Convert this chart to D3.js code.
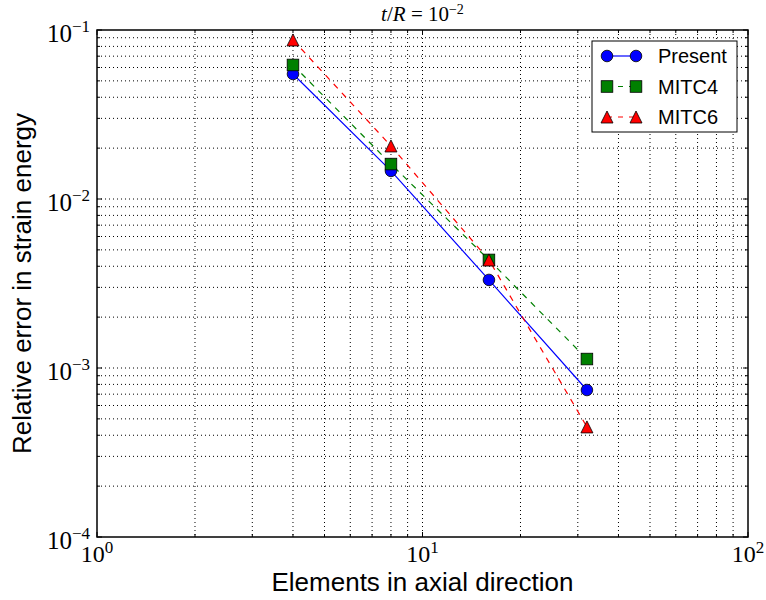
<html>
<head>
    <meta charset="utf-8">
    <title>Relative error in strain energy</title>
    <style>
        body {
            margin: 0;
            background: white;
            font-family: "Liberation Sans", Arial, sans-serif;
        }
        .grid line {
            stroke: #000;
            stroke-width: 1;
            stroke-dasharray: 1, 3;
        }
        .tick-label {
            font-family: "Liberation Serif", "Times New Roman", serif;
        }
    </style>
    <script src="https://cdn.jsdelivr.net/npm/d3@7"></script>
</head>
<body>
<div class="mainView"></div>
<script>
    // number of elements along the axial direction
    let elements = [4, 8, 16, 32];

    // relative error in strain energy
    let presentErr = [0.0549, 0.01466, 0.00332, 0.000741];
    let mitc4Err = [0.0621, 0.0161, 0.00436, 0.00113];
    let mitc6Err = [0.0873, 0.0206, 0.00436, 0.000448];

    let seriesNames = ["Present", "MITC4", "MITC6"];

    let xTickExps = [0, 1, 2];
    let yTickExps = [-1, -2, -3, -4];

    function getChartConfig() {
        let width = 766;
        let height = 600;
        let margin = {
            top: 30,
            bottom: 63,
            left: 97,
            right: 18
        }
        let bodyHeight = height - margin.top - margin.bottom;
        let bodyWidth = width - margin.left - margin.right;
        let svg = d3.select(".mainView")
                    .append("svg")
                    .attr("width", width)
                    .attr("height", height)
        let container = svg.append("g")
                    .attr("transform", "translate(" + [margin.left, margin.top] + ")")
        return { width, height, margin, bodyHeight, bodyWidth, svg, container };
    }

    function getChartScales(config) {
        let { bodyWidth, bodyHeight } = config;
        let xScale = d3.scaleLog()
            .domain([1, 100])
            .range([0, bodyWidth])
        let yScale = d3.scaleLog()
            .domain([1e-4, 1e-1])
            .range([bodyHeight, 0])
        return { xScale, yScale }
    }

    // majors and minors of a log decade range
    function logTicks(lo, hi) {
        let out = [];
        for (let e = lo; e < hi; e++) {
            for (let m = 1; m < 10; m++) out.push({ v: m * Math.pow(10, e), major: m == 1 });
        }
        out.push({ v: Math.pow(10, hi), major: true });
        return out;
    }

    function drawAxes(scales, config) {
        let { xScale, yScale } = scales;
        let { container, bodyWidth, bodyHeight, svg, margin } = config;
        let xt = logTicks(0, 2);
        let yt = logTicks(-4, -1);

        let grid = container.append("g").attr("class", "grid");
        xt.filter(d => d.v > 1 && d.v < 100).forEach(d => {
            grid.append("line")
                .attr("x1", xScale(d.v)).attr("x2", xScale(d.v))
                .attr("y1", 0).attr("y2", bodyHeight)
        })
        yt.filter(d => d.v > 1e-4 && d.v < 1e-1).forEach(d => {
            grid.append("line")
                .attr("x1", 0).attr("x2", bodyWidth)
                .attr("y1", yScale(d.v)).attr("y2", yScale(d.v))
        })

        // inward ticks on all four sides
        let ticks = container.append("g").attr("stroke", "#000").attr("stroke-width", 1);
        xt.forEach(d => {
            let len = d.major ? 5 : 3;
            let x = xScale(d.v);
            ticks.append("line").attr("x1", x).attr("x2", x).attr("y1", bodyHeight).attr("y2", bodyHeight - len)
            ticks.append("line").attr("x1", x).attr("x2", x).attr("y1", 0).attr("y2", len)
        })
        yt.forEach(d => {
            let len = d.major ? 5 : 3;
            let y = yScale(d.v);
            ticks.append("line").attr("x1", 0).attr("x2", len).attr("y1", y).attr("y2", y)
            ticks.append("line").attr("x1", bodyWidth).attr("x2", bodyWidth - len).attr("y1", y).attr("y2", y)
        })

        container.append("rect")
            .attr("width", bodyWidth)
            .attr("height", bodyHeight)
            .attr("fill", "none")
            .attr("stroke", "#000")
            .attr("stroke-width", 1.5)

        xTickExps.forEach(e => {
            let t = container.append("text")
                .attr("class", "tick-label")
                .attr("x", xScale(Math.pow(10, e)))
                .attr("y", bodyHeight + 25)
                .attr("text-anchor", "middle")
                .style("font-size", "24px")
            t.append("tspan").text("10")
            t.append("tspan").attr("dy", -9).style("font-size", "17px").text(e)
        })
        yTickExps.forEach(e => {
            let t = container.append("text")
                .attr("class", "tick-label")
                .attr("x", -7)
                .attr("y", yScale(Math.pow(10, e)) + 12)
                .attr("text-anchor", "end")
                .style("font-size", "25px")
            t.append("tspan").text("10")
            t.append("tspan").attr("dy", -10).style("font-size", "17px").text("\u2212" + Math.abs(e))
        })

        // title t/R = 10^-2
        let title = container.append("text")
            .attr("class", "tick-label")
            .attr("x", bodyWidth / 2)
            .attr("y", -9)
            .attr("text-anchor", "middle")
            .style("font-size", "21px")
        title.append("tspan").style("font-style", "italic").text("t")
        title.append("tspan").text("/")
        title.append("tspan").style("font-style", "italic").text("R")
        title.append("tspan").text(" = 10")
        title.append("tspan").attr("dy", -7).style("font-size", "14px").text("\u22122")

        svg.append("text")
            .attr("x", margin.left + bodyWidth / 2)
            .attr("y", 591)
            .attr("text-anchor", "middle")
            .style("font-size", "26px")
            .text("Elements in axial direction")
        svg.append("text")
            .attr("transform", "translate(31," + (margin.top + bodyHeight / 2) + ") rotate(-90)")
            .attr("text-anchor", "middle")
            .style("font-size", "26px")
            .text("Relative error in strain energy")
    }

    function drawMarker(g, kind, color) {
        if (kind == "circle") {
            g.append("circle").attr("r", 5.8).attr("fill", color).attr("stroke", "#000").attr("stroke-width", 0.8)
        } else if (kind == "square") {
            g.append("rect").attr("x", -5.8).attr("y", -5.8).attr("width", 11.6).attr("height", 11.6)
                .attr("fill", color).attr("stroke", "#000").attr("stroke-width", 0.8)
        } else {
            g.append("path").attr("d", "M0,-6L6,6L-6,6Z")
                .attr("fill", color).attr("stroke", "#000").attr("stroke-width", 0.8)
        }
    }

    function drawSeries(scales, config) {
        let { xScale, yScale } = scales;
        let { container } = config;
        let series = [
            { name: seriesNames[0], values: presentErr, color: "#0000ff", dash: null, marker: "circle" },
            { name: seriesNames[1], values: mitc4Err, color: "#008000", dash: "6,6", marker: "square" },
            { name: seriesNames[2], values: mitc6Err, color: "#ff0000", dash: "6,6", marker: "triangle" }
        ];
        let line = d3.line()
            .x((d, i) => xScale(elements[i]))
            .y(d => yScale(d))

        series.forEach(s => {
            container.append("path")
                .datum(s.values)
                .attr("d", line)
                .attr("fill", "none")
                .attr("stroke", s.color)
                .attr("stroke-width", 1.2)
                .attr("stroke-dasharray", s.dash)
        })
        series.forEach(s => {
            s.values.forEach((v, i) => {
                let g = container.append("g")
                    .attr("transform", "translate(" + [xScale(elements[i]), yScale(v)] + ")")
                drawMarker(g, s.marker, s.color)
            })
        })
        return series;
    }

    function drawLegend(series, config) {
        let { svg } = config;
        let legend = svg.append("g").attr("transform", "translate(592,41)");
        legend.append("rect")
            .attr("width", 145)
            .attr("height", 91)
            .attr("fill", "white")
            .attr("stroke", "#000")
            .attr("stroke-width", 1)
        series.forEach((s, i) => {
            let y = 15 + i * 30.5;
            legend.append("line")
                .attr("x1", 15).attr("x2", 44)
                .attr("y1", y).attr("y2", y)
                .attr("stroke", s.color)
                .attr("stroke-width", 1.2)
                .attr("stroke-dasharray", s.dash ? "5,6" : null)
            drawMarker(legend.append("g").attr("transform", "translate(15," + y + ")"), s.marker, s.color)
            drawMarker(legend.append("g").attr("transform", "translate(44," + y + ")"), s.marker, s.color)
            legend.append("text")
                .attr("x", 66)
                .attr("y", y + 7)
                .style("font-size", "20px")
                .text(s.name)
        })
    }

    function showData() {
        let config = getChartConfig();
        let scales = getChartScales(config);
        drawAxes(scales, config);
        let series = drawSeries(scales, config);
        drawLegend(series, config);
    }
    showData();
</script>
</body>
</html>
